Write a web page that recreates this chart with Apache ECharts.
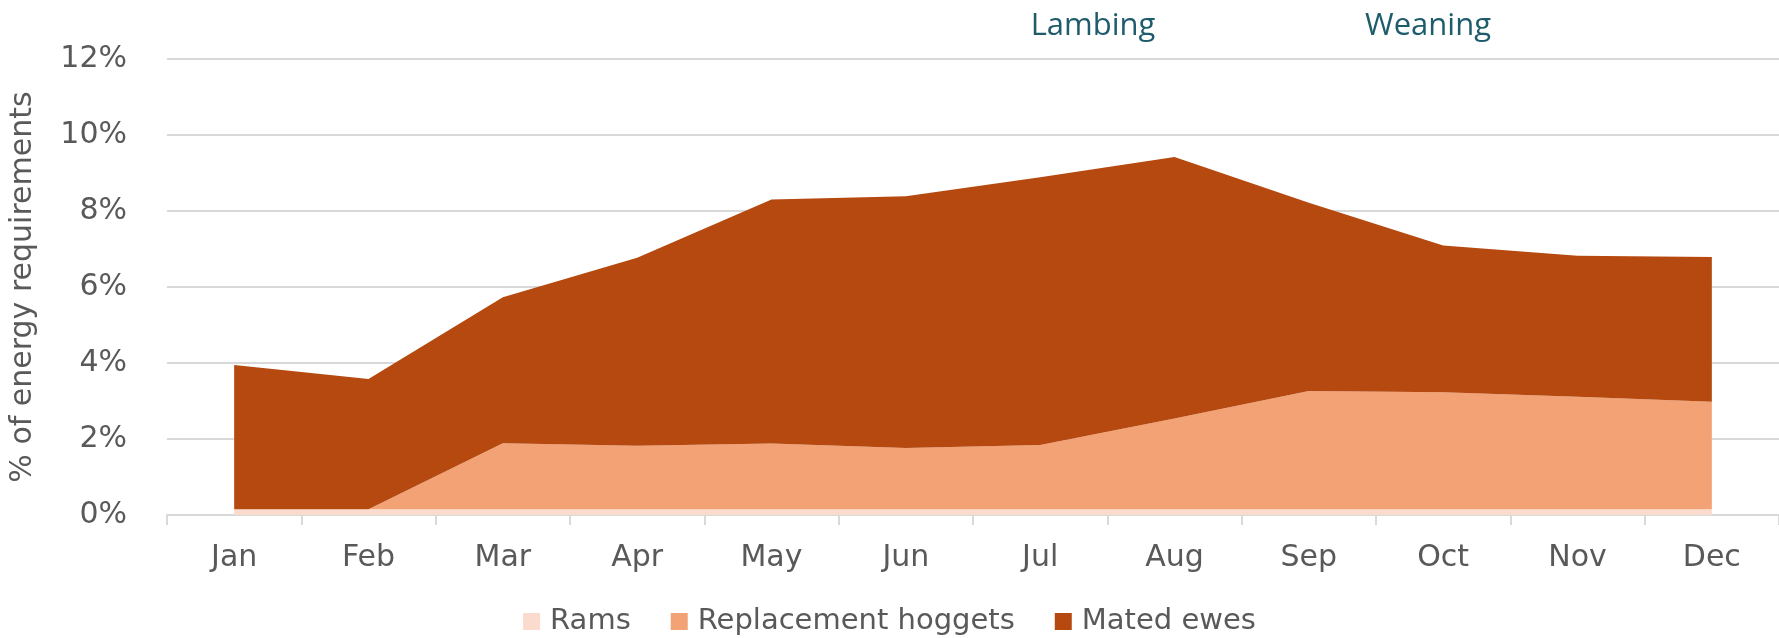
<!DOCTYPE html>
<html>
<head>
<meta charset="utf-8">
<script src="https://cdn.jsdelivr.net/npm/echarts@6/dist/echarts.min.js"></script>
<style>
html,body{margin:0;padding:0;background:#fff;}
#chart{width:1779px;height:638px;}
</style>
</head>
<body>
<div id="chart"></div>
<script>
const months = ['Jan','Feb','Mar','Apr','May','Jun','Jul','Aug','Sep','Oct','Nov','Dec'];
const rams = [0.15,0.15,0.15,0.15,0.15,0.15,0.15,0.15,0.15,0.15,0.15,0.15];
const replacementHoggets = [0,0,1.74,1.67,1.73,1.61,1.69,2.39,3.11,3.08,2.96,2.83];
const matedEwes = [3.80,3.43,3.84,4.95,6.42,6.63,7.05,6.88,4.96,3.86,3.71,3.81];
const seriesNames = ['Rams','Replacement hoggets','Mated ewes'];
const seriesColors = ['#FADBCD','#F2A275','#B5490F'];
const annotations = ['Lambing','Weaning'];

const axisFont = '"DejaVu Sans", sans-serif';
const chart = echarts.init(document.getElementById('chart'));
const dataSets = [rams, replacementHoggets, matedEwes];
chart.setOption({
  animation: false,
  backgroundColor: '#fff',
  grid: {left: 159, right: -6, top: 59, bottom: 123, containLabel: false},
  legend: {
    bottom: -3, left: 'center',
    itemWidth: 17, itemHeight: 17, itemGap: 40,
    icon: 'rect',
    textStyle: {fontFamily: axisFont, fontSize: 29, color: '#595959', padding: [0, 0, 0, 5]},
    data: seriesNames
  },
  xAxis: {
    type: 'category', data: months, boundaryGap: true,
    axisLine: {lineStyle: {color: '#D9D9D9', width: 2}},
    axisTick: {show: true, length: 10, lineStyle: {color: '#D9D9D9', width: 2}},
    axisLabel: {fontFamily: axisFont, fontSize: 30, color: '#595959', margin: 28}
  },
  yAxis: {
    type: 'value', min: 0, max: 12, interval: 2,
    name: '% of energy requirements', nameLocation: 'middle', nameGap: 129,
    nameTextStyle: {fontFamily: axisFont, fontSize: 30, color: '#595959'},
    axisLine: {show: false}, axisTick: {show: false},
    axisLabel: {fontFamily: axisFont, fontSize: 30, color: '#595959', margin: 40, formatter: v => v + '%'},
    splitLine: {lineStyle: {color: '#D9D9D9', width: 2}}
  },
  graphic: [
    {type: 'text', x: 1093, y: 26, style: {text: annotations[0], font: '31px "Open Sans", sans-serif', fill: '#1F5C6B', textAlign: 'center', textVerticalAlign: 'middle'}},
    {type: 'text', x: 1428, y: 26, style: {text: annotations[1], font: '31px "Open Sans", sans-serif', fill: '#1F5C6B', textAlign: 'center', textVerticalAlign: 'middle'}}
  ],
  series: dataSets.map((d, i) => ({
    name: seriesNames[i], type: 'line', stack: 'total', data: d,
    showSymbol: false, symbol: 'none',
    lineStyle: {width: 0},
    itemStyle: {color: seriesColors[i]},
    areaStyle: {color: seriesColors[i], opacity: 1}
  }))
});
</script>
</body>
</html>
